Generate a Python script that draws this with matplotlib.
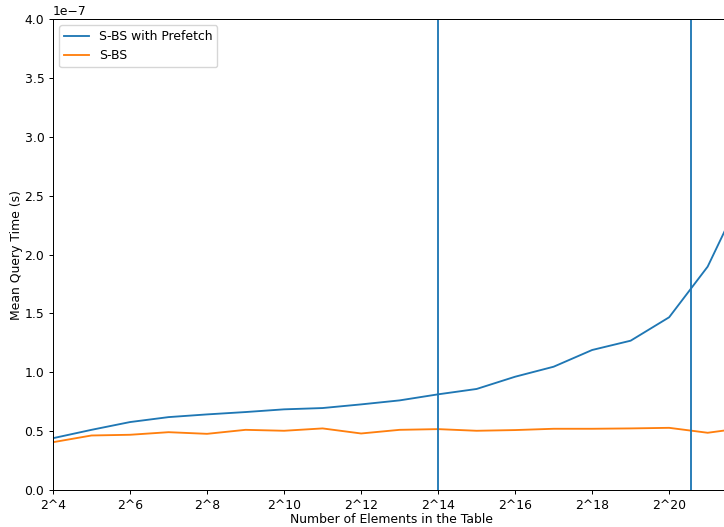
import numpy as np
import matplotlib
matplotlib.use('Agg')
import matplotlib.pyplot as plt

exponents = [4, 5, 6, 7, 8, 9, 10, 11, 12, 13, 14, 15, 16, 17, 18, 19, 20, 21, 22]
prefetch_times = [0.440, 0.511, 0.577, 0.619, 0.642, 0.662, 0.685, 0.696, 0.727, 0.761,
                  0.8125, 0.858, 0.962, 1.047, 1.189, 1.268, 1.467, 1.897, 2.58]
sbs_times = [0.406, 0.463, 0.469, 0.491, 0.477, 0.511, 0.503, 0.523, 0.480, 0.511,
             0.517, 0.503, 0.509, 0.520, 0.520, 0.523, 0.528, 0.486, 0.53]
vline_exponents = [14, 20.57]
tick_exponents = [4, 6, 8, 10, 12, 14, 16, 18, 20]

# the reference was rendered a bit smaller than default, scale everything ~0.89
s = 0.89
plt.rcParams['font.size'] = 10 * s
plt.rcParams['lines.linewidth'] = 1.5 * s
plt.rcParams['axes.linewidth'] = 0.8 * s
plt.rcParams['xtick.major.size'] = 3.5 * s
plt.rcParams['ytick.major.size'] = 3.5 * s
plt.rcParams['xtick.major.width'] = 0.8 * s
plt.rcParams['ytick.major.width'] = 0.8 * s
plt.rcParams['xtick.major.pad'] = 3.5 * s
plt.rcParams['ytick.major.pad'] = 3.5 * s

sizes = [2 ** e for e in exponents]
prefetch = [v * 1e-7 for v in prefetch_times]
sbs = [v * 1e-7 for v in sbs_times]

fig = plt.figure(figsize=(7.24, 5.27), dpi=100)
ax = fig.add_axes([53 / 724, 37 / 527, 677 / 724, 471 / 527])
ax.plot(sizes, prefetch, label='S-BS with Prefetch')
ax.plot(sizes, sbs, label='S-BS')
for e in vline_exponents:
    ax.axvline(2 ** e)
ax.set_xscale('log', base=2)
ax.set_xticks([2 ** e for e in tick_exponents])
ax.set_xticklabels(['2^{}'.format(e) for e in tick_exponents])
ax.minorticks_off()
ax.set_xlim(2 ** 4, 2 ** 21.58)
ax.set_ylim(0, 4e-7)
ax.set_xlabel('Number of Elements in the Table', labelpad=1)
ax.set_ylabel('Mean Query Time (s)', labelpad=1)
ax.legend(loc='upper left')
fig.savefig('out.png', dpi=100)
